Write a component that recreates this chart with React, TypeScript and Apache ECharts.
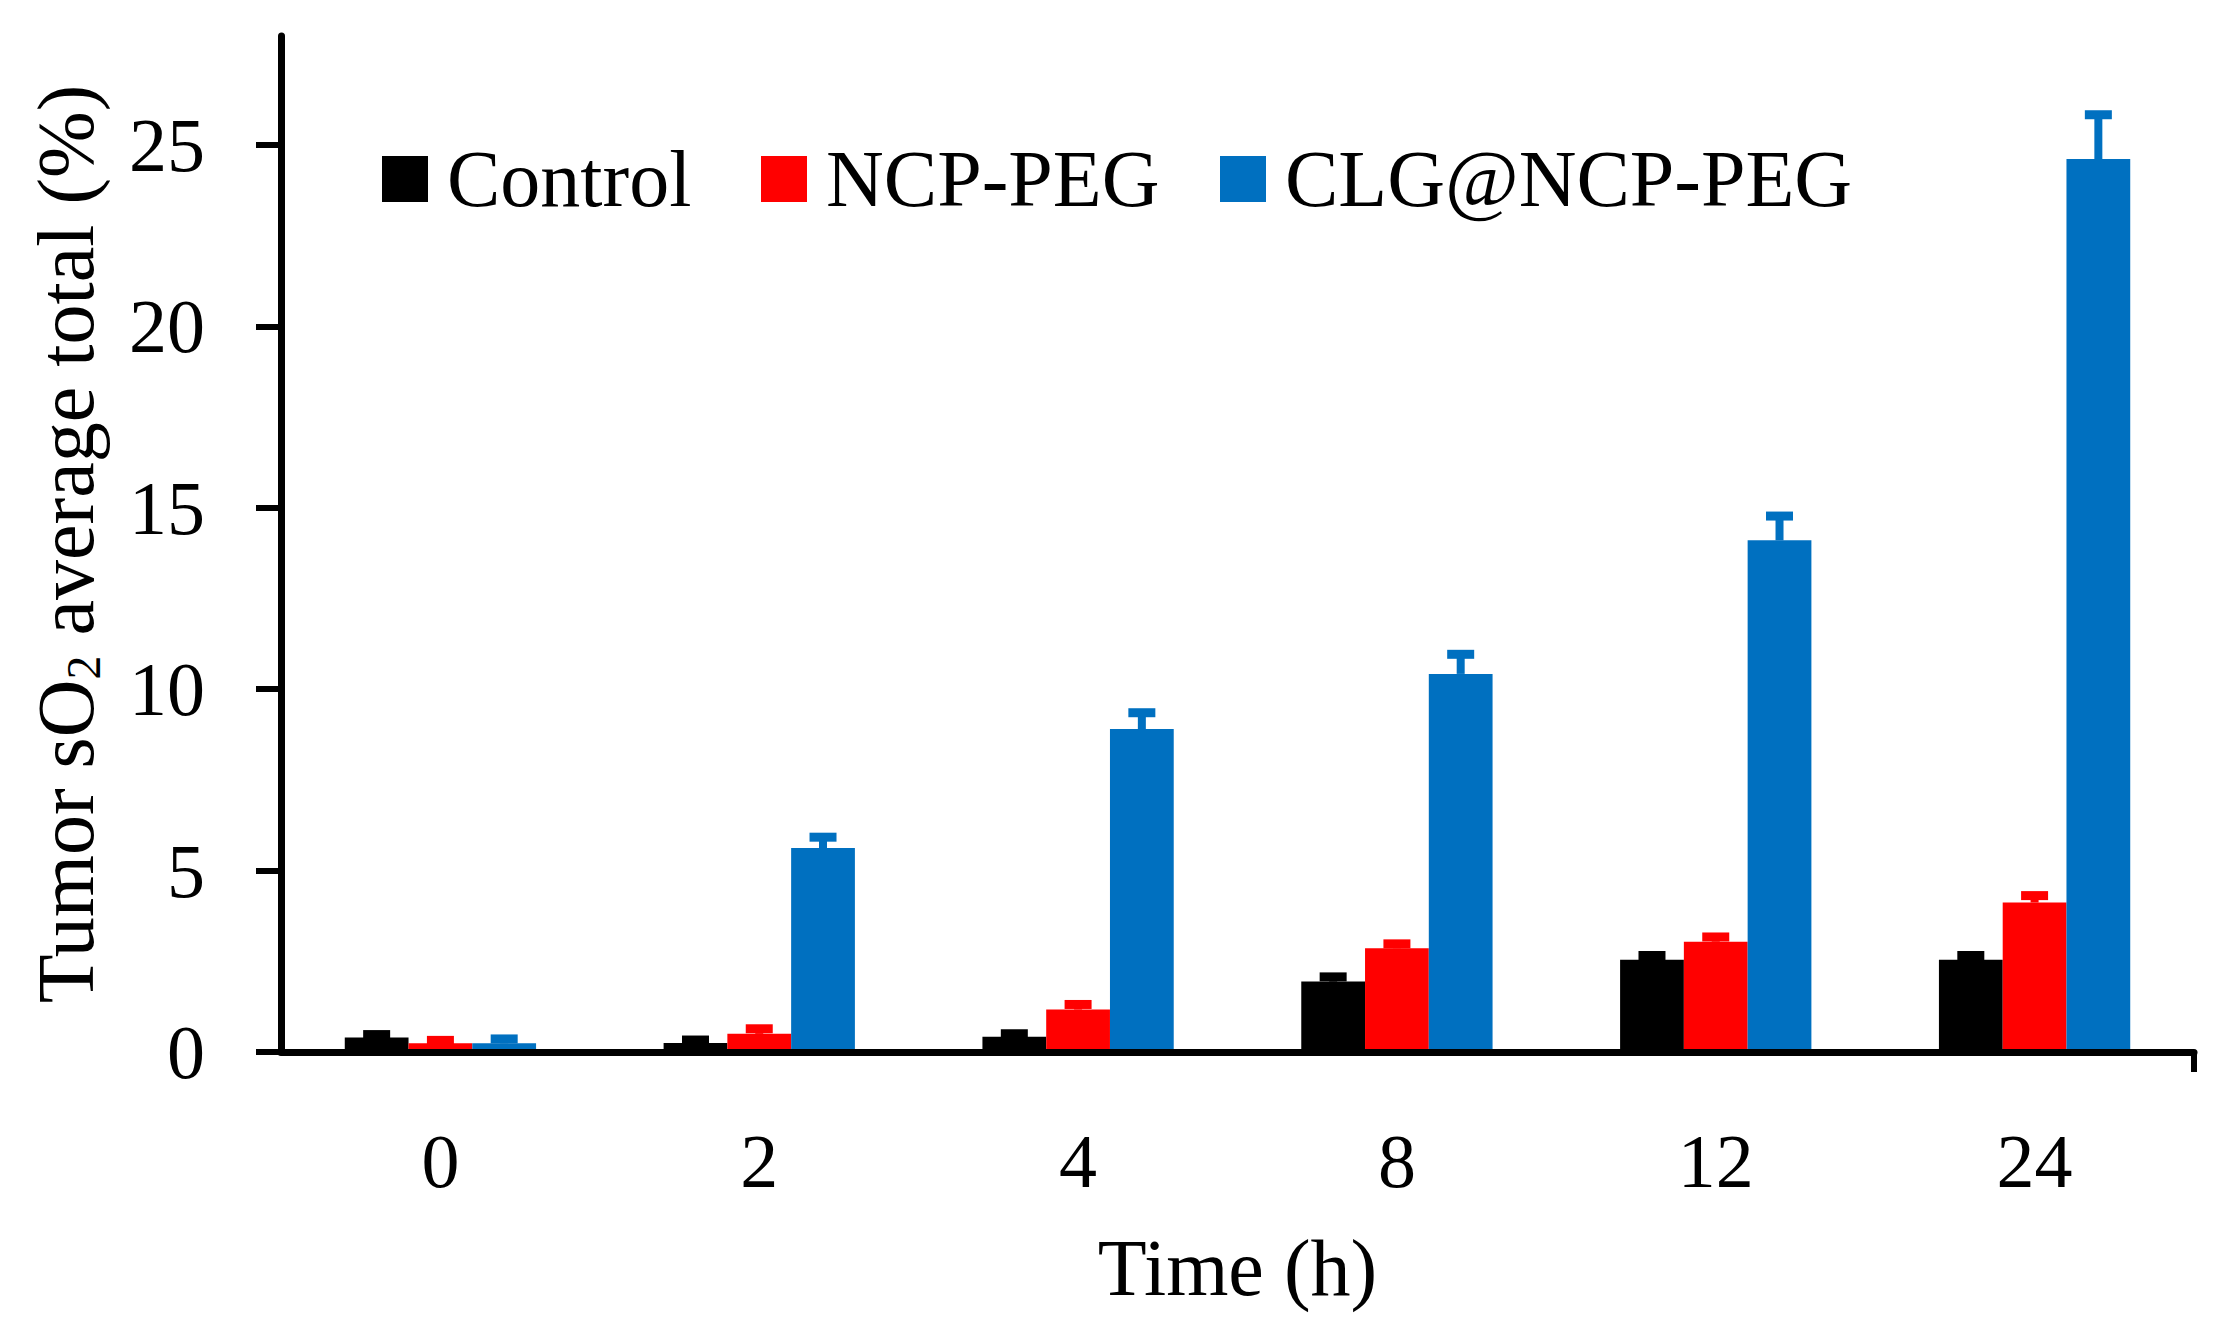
import React, { useEffect, useRef } from "react";
import * as echarts from "echarts";

const categories = ["0", "2", "4", "8", "12", "24"];
const seriesNames = ["Control", "NCP-PEG", "CLG@NCP-PEG"];
const controlValues = [0.4, 0.25, 0.42, 1.94, 2.54, 2.54];
const controlErrors = [0.08, 0.08, 0.08, 0.13, 0.12, 0.12];
const ncpValues = [0.24, 0.5, 1.17, 2.86, 3.04, 4.12];
const ncpErrors = [0.08, 0.14, 0.14, 0.12, 0.13, 0.19];
const clgValues = [0.24, 5.62, 8.9, 10.42, 14.1, 24.61];
const clgErrors = [0.12, 0.3, 0.45, 0.54, 0.67, 1.22];
const yTicks = [0, 5, 10, 15, 20, 25];
const colors = ["#000000", "#FF0000", "#0070C0"];

const FONT = "Liberation Serif";

export default function App() {
  const ref = useRef<HTMLDivElement>(null);
  useEffect(() => {
    document.body.style.margin = "0";
    if (!ref.current) return;
    const chart = echarts.init(ref.current, undefined, { renderer: "svg" });
    const values = [controlValues, ncpValues, clgValues];
    const errors = [controlErrors, ncpErrors, clgErrors];

    const barSeries = seriesNames.map((name, i) => ({
      name,
      type: "bar",
      data: values[i],
      barWidth: "20%",
      barGap: "0%",
      itemStyle: { color: colors[i] },
      z: 2,
    }));

    const errSeries = seriesNames.map((name, i) => ({
      name: "err-" + name,
      type: "custom",
      z: 3,
      data: categories.map((_, j) => [j, values[i][j], errors[i][j]]),
      encode: { x: 0, y: 1 },
      renderItem: (params: any, api: any) => {
        const xi = api.value(0);
        const v = api.value(1);
        const e = api.value(2);
        const base = api.coord([xi, v]);
        const top = api.coord([xi, v + e]);
        const band = api.size([1, 0])[0];
        const cx = base[0] + (i - 1) * band * 0.2;
        const capW = 27;
        const capH = 9;
        return {
          type: "group",
          children: [
            {
              type: "rect",
              shape: { x: cx - 4, y: top[1], width: 8, height: base[1] - top[1] },
              style: { fill: colors[i] },
            },
            {
              type: "rect",
              shape: { x: cx - capW / 2, y: top[1] - capH / 2, width: capW, height: capH },
              style: { fill: colors[i] },
            },
          ],
        };
      },
    }));

    const legendLefts = [382, 761, 1220];
    const legends = seriesNames.map((name, i) => ({
      data: [name],
      left: legendLefts[i],
      top: 139,
      padding: 0,
      icon: "rect",
      itemWidth: 46,
      itemHeight: 46,
      selectedMode: false,
      textStyle: {
        fontFamily: FONT,
        fontSize: 80,
        color: "#000",
        padding: [0, 0, 0, 14],
      },
    }));

    chart.setOption({
      animation: false,
      backgroundColor: "#ffffff",
      legend: legends,
      grid: { left: 281, right: 30, top: 36, bottom: 280, containLabel: false },
      xAxis: [
        {
          type: "category",
          data: categories,
          z: 10,
          name: "Time (h)",
          nameLocation: "middle",
          nameGap: 176,
          nameTextStyle: { fontFamily: FONT, fontSize: 80, color: "#000" },
          axisLine: { lineStyle: { color: "#000", width: 7 } },
          axisTick: { alignWithLabel: true, length: 20, lineStyle: { color: "#000", width: 6 } },
          axisLabel: { margin: 71, fontFamily: FONT, fontSize: 76, color: "#000" },
          splitLine: { show: false },
        },
        {
          type: "value",
          min: 0,
          max: 1,
          position: "bottom",
          z: 10,
          axisLine: { show: false },
          axisLabel: { show: false },
          splitLine: { show: false },
          axisTick: { show: true, customValues: [1], length: 20, lineStyle: { color: "#000", width: 6 } },
        },
      ],
      yAxis: {
        type: "value",
        min: 0,
        max: 28,
        interval: 5,
        z: 10,
        name: "Tumor sO{sub|2} average total (%)",
        nameLocation: "middle",
        nameGap: 174,
        nameTextStyle: {
          fontFamily: FONT,
          fontSize: 80,
          color: "#000",
          rich: {
            sub: { fontFamily: FONT, fontSize: 48, color: "#000", padding: [34, 0, 0, 0] },
          },
        },
        axisLine: { show: true, lineStyle: { color: "#000", width: 7 } },
        axisTick: { show: true, length: 25, customValues: yTicks, lineStyle: { color: "#000", width: 6 } },
        axisLabel: { margin: 76, fontFamily: FONT, fontSize: 76, color: "#000", customValues: yTicks },
        splitLine: { show: false },
      },
      series: [...barSeries, ...errSeries],
    });
    return () => chart.dispose();
  }, []);
  return <div ref={ref} style={{ width: "2224px", height: "1332px" }} />;
}
